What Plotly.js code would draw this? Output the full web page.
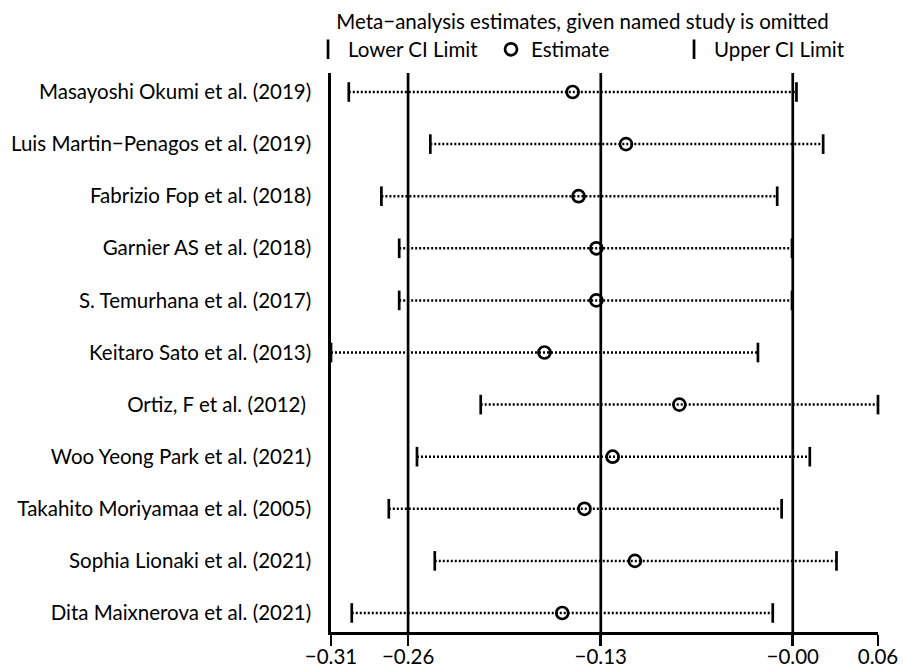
<!DOCTYPE html>
<html>
<head>
<meta charset="utf-8">
<script src="https://cdn.plot.ly/plotly-3.0.1.min.js"></script>
<style>html,body{margin:0;padding:0;background:#fff;}#chart{width:903px;height:668px;}</style>
</head>
<body>
<div id="chart"></div>
<script>
// ---- data ----
var studies = [
  "Masayoshi Okumi et al. (2019)",
  "Luis Martin\u2212Penagos et al. (2019)",
  "Fabrizio Fop et al. (2018)",
  "Garnier AS et al. (2018)",
  "S. Temurhana et al. (2017)",
  "Keitaro Sato et al. (2013)",
  "Ortiz, F et al. (2012) ",
  "Woo Yeong Park et al. (2021)",
  "Takahito Moriyamaa et al. (2005)",
  "Sophia Lionaki et al. (2021)",
  "Dita Maixnerova et al. (2021)"
];
var lowerCI  = [-0.300, -0.245, -0.278, -0.266, -0.266, -0.312, -0.211, -0.254, -0.273, -0.242, -0.298];
var estimate = [-0.149, -0.113, -0.145, -0.133, -0.133, -0.168, -0.077, -0.122, -0.141, -0.107, -0.156];
var upperCI  = [ 0.002,  0.020, -0.011, -0.001, -0.001, -0.024,  0.057,  0.011, -0.008,  0.029, -0.014];
var overallLines = [-0.26, -0.13, -0.0005];   // overall lower CI, estimate, upper CI
var tickVals = [-0.312, -0.26, -0.13, -0.0005, 0.057];
var tickText = ["\u22120.31", "\u22120.26", "\u22120.13", "\u22120.00", "0.06"];
var titleText = "Meta\u2212analysis estimates, given named study is omitted";

// ---- build traces ----
var font = "Lato, 'Liberation Sans', Arial, sans-serif";
var fs = 20.5;
var lx = [], ly = [];
for (var i = 0; i < studies.length; i++) {
  lx.push(lowerCI[i], upperCI[i], null);
  ly.push(studies[i], studies[i], null);
}
var traces = [
  {x: lx, y: ly, type: "scatter", mode: "lines", showlegend: false, hoverinfo: "skip",
   line: {color: "#000", width: 2.5, dash: "2px,2px"}},
  {x: lowerCI, y: studies, type: "scatter", mode: "markers", name: "Lower CI Limit", cliponaxis: false,
   marker: {symbol: "line-ns-open", size: 14, color: "#000", line: {color: "#000", width: 2.7}}},
  {x: estimate, y: studies, type: "scatter", mode: "markers", name: "Estimate", cliponaxis: false,
   marker: {symbol: "circle-open", size: 12, color: "#000", line: {color: "#000", width: 2.7}}},
  {x: upperCI, y: studies, type: "scatter", mode: "markers", name: "Upper CI Limit", cliponaxis: false,
   marker: {symbol: "line-ns-open", size: 14, color: "#000", line: {color: "#000", width: 2.7}}}
];

var shapes = overallLines.map(function (v) {
  return {type: "line", xref: "x", yref: "paper", x0: v, x1: v, y0: 0, y1: 1,
          line: {color: "#000", width: 2.7}, layer: "below"};
});

var layout = {
  width: 903, height: 668,
  margin: {l: 331, r: 25, t: 73, b: 36, pad: 0, autoexpand: false},
  paper_bgcolor: "#fff", plot_bgcolor: "#fff",
  font: {family: font, size: fs, color: "#000"},
  showlegend: true,
  legend: {
    orientation: "h", x: -0.042, xanchor: "left", y: 1.1255, yanchor: "top",
    entrywidth: 138, entrywidthmode: "pixels",
    font: {family: font, size: fs, color: "#000"},
    title: {text: titleText, side: "top center", font: {family: font, size: fs, color: "#000"}},
    bgcolor: "rgba(0,0,0,0)", tracegroupgap: 0, itemwidth: 30
  },
  xaxis: {
    range: [-0.312, 0.057], tickvals: tickVals, ticktext: tickText,
    showgrid: false, zeroline: false, showline: true, linecolor: "#000", linewidth: 2.7,
    ticks: "outside", ticklen: 11, tickwidth: 2.7, tickcolor: "#000",
    ticklabelstandoff: -6,
    tickfont: {family: font, size: fs, color: "#000"}, fixedrange: true
  },
  yaxis: {
    type: "category", categoryorder: "array", categoryarray: studies,
    range: [10.365, -0.365], showgrid: false, zeroline: false,
    showline: true, linecolor: "#000", linewidth: 2.7, ticks: "",
    ticklabelstandoff: 13,
    tickfont: {family: font, size: fs, color: "#000"}, fixedrange: true
  },
  shapes: shapes
};

Plotly.newPlot("chart", traces, layout, {displayModeBar: false, staticPlot: true});
</script>
</body>
</html>
